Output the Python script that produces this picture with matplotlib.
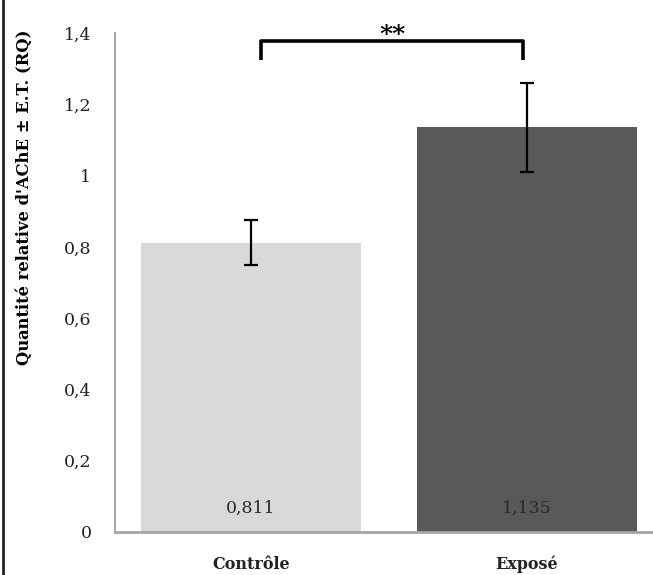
import matplotlib
matplotlib.use('Agg')
import matplotlib.pyplot as plt
from matplotlib.lines import Line2D

# valeurs
categories = ['Contrôle', 'Exposé']
valeurs = [0.811, 1.135]
erreurs = [0.063, 0.125]
etiquettes = ['0,811', '1,135']
couleurs = ['#d9d9d9', '#595959']
yticks = [0, 0.2, 0.4, 0.6, 0.8, 1.0, 1.2, 1.4]
ytick_labels = ['0', '0,2', '0,4', '0,6', '0,8', '1', '1,2', '1,4']

plt.rcParams['font.family'] = ['DejaVu Serif']

fig = plt.figure(figsize=(6.53, 5.75), dpi=100)
ax = fig.add_axes([115 / 653, 43 / 575, 550 / 653, 499 / 575])

x = list(range(len(categories)))
ax.bar(x, valeurs, width=0.8, color=couleurs, zorder=2)
ax.errorbar(x, valeurs, yerr=erreurs, fmt='none', ecolor='black',
            elinewidth=1.6, capsize=5, capthick=1.6, zorder=3)

for xi, lab in zip(x, etiquettes):
    ax.text(xi, 0.067, lab, ha='center', va='center', fontsize=12.5,
            color='#2a2a2a', zorder=4)

# accolade de significativite
ax.plot([0.036, 0.036, 0.986, 0.986], [1.324, 1.378, 1.378, 1.324],
        color='black', lw=2.6, solid_capstyle='butt', clip_on=False, zorder=4)
ax.text(0.514, 1.362, '**', ha='center', va='bottom', fontsize=18,
        fontweight='bold', color='black', clip_on=False)

ax.set_xlim(-0.493, 1.5)
ax.set_ylim(0, 1.4)
ax.set_yticks(yticks)
ax.set_yticklabels(ytick_labels, fontsize=12.5)
ax.set_xticks(x)
ax.set_xticklabels(categories, fontsize=11.5, fontweight='bold')
ax.tick_params(axis='both', length=0, colors='#222222')
ax.tick_params(axis='y', pad=17)
ax.tick_params(axis='x', pad=17)

for s in ['top', 'right']:
    ax.spines[s].set_visible(False)
ax.spines['left'].set_color('#a6a6a6')
ax.spines['bottom'].set_color('#a6a6a6')
ax.spines['left'].set_linewidth(1.5)
ax.spines['bottom'].set_linewidth(2)

ax.set_ylabel("Quantité relative d'AChE ± E.T. (RQ)", fontsize=11.8,
              fontweight='bold')
ax.yaxis.set_label_coords(-0.149, 0.671)

# trait noir a gauche de l'image
fig.add_artist(Line2D([2.5 / 653, 2.5 / 653], [0, 1], color='#222222', lw=2,
                      transform=fig.transFigure))

fig.savefig('out.png', dpi=100)
